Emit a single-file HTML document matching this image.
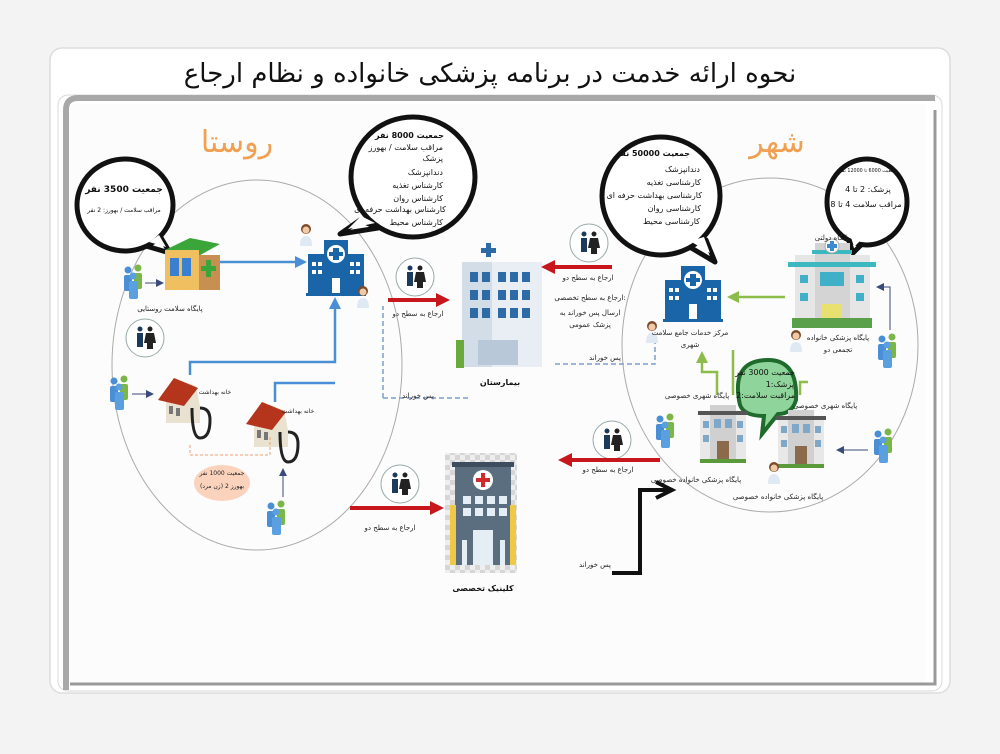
<!DOCTYPE html>
<html><head><meta charset="utf-8"><style>
body{margin:0;background:#f3f3f3;width:1000px;height:750px;overflow:hidden;font-family:"DejaVu Sans","Liberation Sans",sans-serif}
svg text{font-family:"DejaVu Sans","Liberation Sans",sans-serif}
</style></head><body>
<svg width="1000" height="750" viewBox="0 0 1000 750" xmlns="http://www.w3.org/2000/svg">
<defs>
<marker id="ab" markerUnits="userSpaceOnUse" markerWidth="12" markerHeight="12" refX="9" refY="6" orient="auto"><path d="M0,0 L12,6 L0,12z" fill="#4a8fd6"/></marker>
<marker id="ar" markerUnits="userSpaceOnUse" markerWidth="14" markerHeight="14" refX="10" refY="7" orient="auto"><path d="M0,0 L14,7 L0,14z" fill="#c8161d"/></marker>
<marker id="ag" markerUnits="userSpaceOnUse" markerWidth="12" markerHeight="12" refX="9" refY="6" orient="auto"><path d="M0,0 L12,6 L0,12z" fill="#8cbd4a"/></marker>
<marker id="an" markerUnits="userSpaceOnUse" markerWidth="8" markerHeight="8" refX="6" refY="4" orient="auto"><path d="M0,0 L8,4 L0,8z" fill="#3a4a7a"/></marker>
<pattern id="chk" width="10" height="10" patternUnits="userSpaceOnUse"><rect width="10" height="10" fill="#eee"/><rect width="5" height="5" fill="#d6d6d6"/><rect x="5" y="5" width="5" height="5" fill="#d6d6d6"/></pattern>
<g id="ppl"><circle cx="6" cy="4" r="3.5" fill="#4a8fd6"/><rect x="2" y="9" width="8" height="16" rx="2" fill="#4a8fd6"/><circle cx="16" cy="2" r="3.5" fill="#7ab648"/><rect x="12" y="7" width="8" height="16" rx="2" fill="#7ab648"/><circle cx="11" cy="10" r="3.5" fill="#5aa0e0"/><rect x="7" y="15" width="9" height="18" rx="2" fill="#5aa0e0"/></g>
<g id="pair"><circle r="19" fill="#fff" stroke="#9aa" stroke-width="1"/><circle cx="-5" cy="-9" r="2.5" fill="#1b3a5c"/><rect x="-8" y="-5" width="6" height="14" fill="#1b3a5c"/><circle cx="5" cy="-9" r="2.5" fill="#222"/><path d="M1,-5 h8 l2,10 h-12z M2,5h6v6h-6z" fill="#222"/></g>
<g id="hc"><rect x="0" y="14" width="56" height="40" fill="#1a64a8"/><rect x="16" y="0" width="24" height="54" fill="#1a64a8"/><circle cx="28" cy="14" r="9" fill="#fff"/><path d="M25,8h6v4h4v4h-4v4h-6v-4h-4v-4h4z" fill="#1a64a8"/><rect x="24" y="38" width="8" height="16" fill="#fff"/><rect x="4" y="22" width="4" height="4" fill="#fff"/><rect x="10" y="22" width="4" height="4" fill="#fff"/><rect x="4" y="30" width="4" height="4" fill="#fff"/><rect x="10" y="30" width="4" height="4" fill="#fff"/><rect x="42" y="22" width="4" height="4" fill="#fff"/><rect x="48" y="22" width="4" height="4" fill="#fff"/><rect x="42" y="30" width="4" height="4" fill="#fff"/><rect x="48" y="30" width="4" height="4" fill="#fff"/><rect x="-2" y="53" width="60" height="3" fill="#1a64a8"/></g>
<g id="doc"><circle cx="6" cy="5" r="5" fill="#7a4a2a"/><circle cx="6" cy="6" r="3.5" fill="#f1c9a5"/><path d="M0,22 q0,-10 6,-10 q6,0 6,10z" fill="#dfe9f3"/></g>
<g id="pb"><rect x="0" y="8" width="46" height="50" fill="#e8e8e8"/><rect x="10" y="0" width="26" height="58" fill="#d0d0d0"/><rect x="-2" y="6" width="50" height="4" fill="#555"/><rect x="14" y="14" width="7" height="9" fill="#7fa8c8"/><rect x="25" y="14" width="7" height="9" fill="#7fa8c8"/><rect x="3" y="16" width="6" height="7" fill="#7fa8c8"/><rect x="37" y="16" width="6" height="7" fill="#7fa8c8"/><rect x="3" y="30" width="6" height="7" fill="#7fa8c8"/><rect x="37" y="30" width="6" height="7" fill="#7fa8c8"/><rect x="17" y="36" width="12" height="22" fill="#8a6a4a"/><rect x="0" y="54" width="46" height="4" fill="#5a9a3a"/></g>
<g id="house"><path d="M0,20 L14,0 L36,8 L40,28 L40,45 L6,45 L6,22z" fill="#e9e2d0"/><path d="M-2,22 L14,0 L38,10 L24,28z" fill="#b5341c"/><rect x="9" y="28" width="4" height="8" fill="#777"/><rect x="16" y="30" width="4" height="8" fill="#777"/><path d="M32,30 q0,30 8,30 q10,0 10,-18 q0,-12 -10,-12" stroke="#222" stroke-width="3" fill="none"/></g>
</defs>
<rect x="50" y="48" width="900" height="645" rx="12" fill="#fff" stroke="#ddd" stroke-width="1.5"/>
<text x="490" y="82" font-size="26" text-anchor="middle" fill="#111">نحوه ارائه خدمت در برنامه پزشکی خانواده و نظام ارجاع</text>
<rect x="58" y="95" width="884" height="596" rx="10" fill="#fff" stroke="#d8d8d8"/>
<path d="M66,690 V110 q0,-12 12,-12 H935" stroke="#a8a8a8" stroke-width="6" fill="none"/>
<rect x="70" y="104" width="856" height="580" fill="#fcfcfc"/>
<path d="M70,684 H935 V110" stroke="#999" stroke-width="3" fill="none"/>

<ellipse cx="257" cy="365" rx="145" ry="185" fill="none" stroke="#aaa" stroke-width="1"/>
<ellipse cx="770" cy="345" rx="148" ry="167" fill="none" stroke="#aaa" stroke-width="1"/>
<text x="237" y="152" font-size="30" text-anchor="middle" fill="#f0a050">روستا</text>
<text x="777" y="152" font-size="30" text-anchor="middle" fill="#f0a050">شهر</text>

<!-- bubbles -->
<g stroke="#111" stroke-width="5" stroke-linejoin="round" fill="#fff">
<polygon points="146,246 160,236 170,253"/>
<ellipse cx="125" cy="205" rx="48" ry="46"/>
<polygon points="360,220 378,228 340,234"/>
<ellipse cx="413" cy="177" rx="62" ry="60"/>
<polygon points="688,246 706,240 715,262"/>
<ellipse cx="661" cy="196" rx="59" ry="59"/>
<polygon points="848,238 864,242 853,253"/>
<ellipse cx="867" cy="202" rx="40" ry="43"/>
</g>
<g fill="#fff">
<polygon points="149,242 159,235 166,247"/>
<polygon points="361,216 375,223 348,229"/>
<polygon points="690,241 704,237 710,253"/>
<polygon points="850,234 863,238 854,247"/>
</g>
<g fill="#111" text-anchor="middle" font-size="8">
<text x="124" y="192" font-size="9" font-weight="bold">جمعیت 3500 نفر</text>
<text x="124" y="212" font-size="6">مراقب سلامت / بهورز: 2 نفر</text>
<g text-anchor="end"><text x="444" y="138" font-weight="bold">جمعیت 8000 نفر</text>
<text x="443" y="150">مراقب سلامت / بهورز</text><text x="443" y="161">پزشک</text><text x="443" y="175">دندانپزشک</text><text x="443" y="188">کارشناس تغذیه</text><text x="443" y="201">کارشناس روان</text><text x="446" y="212">کارشناس بهداشت حرفه ای</text><text x="443" y="225">کارشناس محیط</text>
<text x="690" y="156" font-weight="bold">جمعیت 50000 نفر</text><text x="700" y="172">دندانپزشک</text><text x="701" y="185">کارشناسی تغذیه</text><text x="702" y="198">کارشناسی بهداشت حرفه ای</text><text x="701" y="211">کارشناسی روان</text><text x="700" y="224">کارشناسی محیط</text></g>
<text x="868" y="172" font-size="4.8">جمعیت 6000 تا 12000 نفر</text>
<text x="868" y="192">پزشک: 2 تا 4</text><text x="866" y="207">مراقب سلامت 4 تا 8</text>
</g>

<!-- green bubble -->
<path d="M740,405 q-10,-45 28,-45 q30,0 28,40 q-4,14 -18,14 l-16,20 l2,-18 q-20,0 -24,-11z" fill="#8fd49a" stroke="#1e6b2c" stroke-width="4"/>
<g font-size="8" fill="#111" text-anchor="end"><text x="795" y="375">جمعیت 3000 نفر</text><text x="794" y="387">پزشک:1</text><text x="795" y="398">مراقبت سلامت:2</text></g>

<!-- rural base -->
<path d="M165,250 l25,-12 l30,6 l-25,14z" fill="#3aa63a"/><rect x="165" y="250" width="34" height="40" fill="#f0c060"/><rect x="199" y="255" width="21" height="35" fill="#c89050"/><rect x="170" y="258" width="9" height="18" fill="#3a7fd0"/><rect x="182" y="258" width="9" height="18" fill="#3a7fd0"/><path d="M206,260h5v6h5v5h-5v6h-5v-6h-5v-5h5z" fill="#3aa63a"/>
<text x="170" y="311" font-size="7" text-anchor="middle" fill="#222">پایگاه سلامت روستایی</text>
<use href="#ppl" x="122" y="266"/><line x1="145" y1="283" x2="162" y2="283" stroke="#3a4a7a" marker-end="url(#an)"/>
<use href="#pair" x="145" y="338"/>
<use href="#ppl" x="108" y="377"/><line x1="132" y1="394" x2="152" y2="394" stroke="#3a4a7a" marker-end="url(#an)"/>
<use href="#house" x="160" y="378"/><text x="215" y="394" font-size="6" fill="#222" text-anchor="middle">خانه بهداشت</text>
<use href="#house" x="248" y="402"/><text x="298" y="413" font-size="6" fill="#222" text-anchor="middle">خانه بهداشت</text>
<path d="M190,445 v10 h80 v-20" stroke="#f0a070" stroke-dasharray="3,2" fill="none"/>
<ellipse cx="222" cy="483" rx="28" ry="18" fill="#fbd3bd"/>
<text x="222" y="475" font-size="6" text-anchor="middle" fill="#222">جمعیت 1000 نفر</text><text x="222" y="488" font-size="6" text-anchor="middle" fill="#222">بهورز 2 (زن مرد)</text>
<use href="#ppl" x="265" y="502"/><line x1="283" y1="497" x2="283" y2="470" stroke="#3a4a7a" marker-end="url(#an)"/>

<!-- rural health center -->
<use href="#hc" x="308" y="240"/><use href="#doc" x="300" y="224"/><use href="#doc" x="357" y="286"/>
<line x1="220" y1="262" x2="304" y2="262" stroke="#4a8fd6" stroke-width="2.5" marker-end="url(#ab)"/>
<path d="M190,375 V362 H335 V300" stroke="#4a8fd6" stroke-width="2.5" fill="none" marker-end="url(#ab)"/>
<path d="M275,402 V383 H335" stroke="#4a8fd6" stroke-width="2.5" fill="none"/>
<path d="M383,398 V306" stroke="#7aa0d0" stroke-width="1.5" stroke-dasharray="5,3" fill="none"/>
<path d="M383,398 H470" stroke="#7aa0d0" stroke-width="1.5" stroke-dasharray="5,3" fill="none"/>
<text x="418" y="398" font-size="7" fill="#222" text-anchor="middle">پس خوراند</text>
<use href="#pair" x="415" y="277"/>
<line x1="388" y1="300" x2="446" y2="300" stroke="#c8161d" stroke-width="4" marker-end="url(#ar)"/>
<text x="418" y="316" font-size="7" fill="#222" text-anchor="middle">ارجاع به سطح دو</text>

<!-- hospital -->
<rect x="462" y="262" width="80" height="105" fill="#e8eef4"/><rect x="462" y="262" width="30" height="105" fill="#d3dde8"/>
<g fill="#2e6aa6"><rect x="470" y="272" width="8" height="10"/><rect x="482" y="272" width="8" height="10"/><rect x="498" y="272" width="8" height="10"/><rect x="510" y="272" width="8" height="10"/><rect x="522" y="272" width="8" height="10"/>
<rect x="470" y="290" width="8" height="10"/><rect x="482" y="290" width="8" height="10"/><rect x="498" y="290" width="8" height="10"/><rect x="510" y="290" width="8" height="10"/><rect x="522" y="290" width="8" height="10"/>
<rect x="470" y="308" width="8" height="10"/><rect x="482" y="308" width="8" height="10"/><rect x="498" y="308" width="8" height="10"/><rect x="510" y="308" width="8" height="10"/><rect x="522" y="308" width="8" height="10"/>
<rect x="486" y="243" width="5" height="14"/><rect x="481" y="248" width="15" height="5"/></g>
<rect x="478" y="340" width="40" height="25" fill="#b8c8d8"/><rect x="456" y="340" width="8" height="28" fill="#6aaa3a"/>
<text x="500" y="385" font-size="8" font-weight="bold" fill="#111" text-anchor="middle">بیمارستان</text>
<use href="#pair" x="589" y="243"/>
<line x1="612" y1="267" x2="545" y2="267" stroke="#c8161d" stroke-width="4" marker-end="url(#ar)"/>
<g font-size="7" fill="#222" text-anchor="middle"><text x="588" y="280">ارجاع به سطح دو</text><text x="590" y="300">ارجاع به سطح تخصصی:</text><text x="590" y="315">ارسال پس خوراند به</text><text x="590" y="327">پزشک عمومی</text><text x="605" y="360">پس خوراند</text></g>
<path d="M555,364 H655 V340" stroke="#7aa0d0" stroke-width="1.5" stroke-dasharray="5,3" fill="none"/>

<!-- city center -->
<use href="#hc" x="665" y="266"/><use href="#doc" x="646" y="321"/>
<text x="690" y="335" font-size="7" fill="#222" text-anchor="middle">مرکز خدمات جامع سلامت</text><text x="690" y="347" font-size="7" fill="#222" text-anchor="middle">شهری</text>
<line x1="785" y1="297" x2="730" y2="297" stroke="#8cbd4a" stroke-width="2.5" marker-end="url(#ag)"/>
<path d="M717,395 V372 H702 V354" stroke="#8cbd4a" stroke-width="2.5" fill="none" marker-end="url(#ag)"/>
<path d="M733,395 V350" stroke="#8cbd4a" stroke-width="2.5" fill="none"/>
<path d="M800,395 V382 H808" stroke="#8cbd4a" stroke-width="2.5" fill="none"/>
<!-- gov base -->
<rect x="795" y="255" width="75" height="70" fill="#e6e6e6"/><rect x="815" y="243" width="35" height="85" fill="#d4d4d4"/><rect x="788" y="262" width="88" height="5" fill="#3cb8c0"/><rect x="812" y="250" width="40" height="4" fill="#3cb8c0"/>
<circle cx="832" cy="246" r="7" fill="#fff" stroke="#aaa"/><path d="M830,241h4v3h3v4h-3v3h-4v-3h-3v-4h3z" fill="#3a8ad0"/>
<g fill="#40b0c8"><rect x="800" y="275" width="8" height="8"/><rect x="800" y="293" width="8" height="8"/><rect x="856" y="275" width="8" height="8"/><rect x="856" y="293" width="8" height="8"/><rect x="820" y="272" width="24" height="14"/></g>
<rect x="822" y="304" width="20" height="24" fill="#e8e070"/><rect x="792" y="318" width="80" height="10" fill="#5aa04a"/>
<text x="832" y="240" font-size="7" fill="#222" text-anchor="middle">پایگاه دولتی</text>
<use href="#doc" x="790" y="330"/>
<text x="838" y="340" font-size="7" fill="#222" text-anchor="middle">پایگاه پزشکی خانواده</text><text x="838" y="352" font-size="7" fill="#222" text-anchor="middle">تجمعی دو</text>
<use href="#ppl" x="876" y="335"/><path d="M890,330 V287 H878" stroke="#3a4a7a" fill="none" marker-end="url(#an)"/>

<!-- private bases -->
<use href="#pb" x="700" y="405"/><use href="#pb" x="778" y="410"/>
<text x="697" y="398" font-size="7" fill="#222" text-anchor="middle">پایگاه شهری خصوصی</text>
<text x="825" y="408" font-size="7" fill="#222" text-anchor="middle">پایگاه شهری خصوصی</text>
<text x="696" y="482" font-size="7" fill="#222" text-anchor="middle">پایگاه پزشکی خانواده خصوصی</text>
<text x="778" y="499" font-size="7" fill="#222" text-anchor="middle">پایگاه پزشکی خانواده خصوصی</text>
<use href="#doc" x="768" y="462"/>
<use href="#ppl" x="654" y="415"/><use href="#ppl" x="872" y="430"/><line x1="868" y1="450" x2="838" y2="450" stroke="#3a4a7a" marker-end="url(#an)"/>
<use href="#pair" x="612" y="440"/>
<line x1="660" y1="460" x2="562" y2="460" stroke="#c8161d" stroke-width="4" marker-end="url(#ar)"/>
<text x="608" y="472" font-size="7" fill="#222" text-anchor="middle">ارجاع به سطح دو</text>
<path d="M612,573 H640 V490 H668" stroke="#111" stroke-width="4" fill="none"/><path d="M656,482 L672,490 L656,498" stroke="#111" stroke-width="4" fill="none"/>
<text x="595" y="567" font-size="7" fill="#222" text-anchor="middle">پس خوراند</text>

<!-- clinic -->
<rect x="445" y="453" width="72" height="120" fill="url(#chk)"/>
<rect x="455" y="465" width="56" height="100" fill="#5a6e80"/><rect x="452" y="462" width="62" height="5" fill="#3e4e5e"/>
<circle cx="483" cy="480" r="10" fill="#fff"/><path d="M481,473h4v5h5v4h-5v5h-4v-5h-5v-4h5z" fill="#d02a2a"/>
<g fill="#e6eef5"><rect x="463" y="496" width="8" height="8"/><rect x="475" y="496" width="8" height="8"/><rect x="487" y="496" width="8" height="8"/><rect x="499" y="496" width="8" height="8"/><rect x="463" y="508" width="8" height="8"/><rect x="475" y="508" width="8" height="8"/><rect x="487" y="508" width="8" height="8"/><rect x="499" y="508" width="8" height="8"/><rect x="462" y="540" width="5" height="25"/><rect x="473" y="530" width="20" height="35"/><rect x="500" y="540" width="5" height="25"/></g>
<rect x="450" y="505" width="6" height="60" fill="#f0c848"/><rect x="510" y="505" width="6" height="60" fill="#f0c848"/>
<text x="483" y="591" font-size="8" font-weight="bold" fill="#111" text-anchor="middle">کلینیک تخصصی</text>
<use href="#pair" x="400" y="484"/>
<line x1="350" y1="508" x2="440" y2="508" stroke="#c8161d" stroke-width="4" marker-end="url(#ar)"/>
<text x="390" y="530" font-size="7" fill="#222" text-anchor="middle">ارجاع به سطح دو</text>
</svg>
</body></html>
